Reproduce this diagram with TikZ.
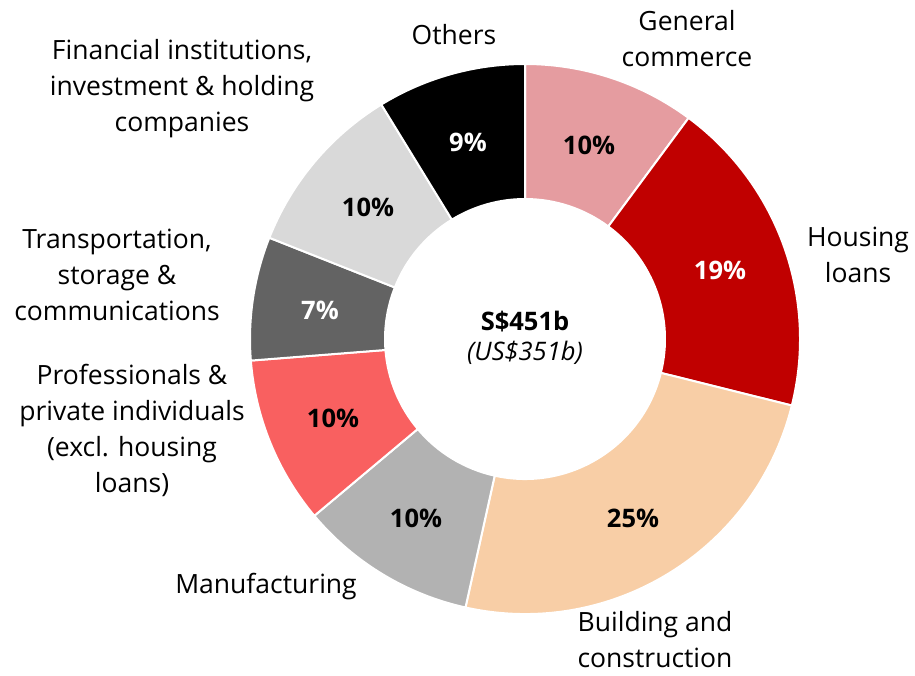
\documentclass[tikz,border=0pt]{standalone}
\usepackage{fontspec}
\setmainfont{Open Sans}
\begin{document}
\begin{tikzpicture}[x=1pt,y=1pt,
  lbl/.style={align=center,font=\fontsize{26.5}{36}\selectfont,inner sep=0pt},
  pct/.style={font=\fontsize{25.5}{30}\selectfont\bfseries,inner sep=0pt},
  seg/.style={draw=white,line width=2pt,line join=round}]
\useasboundingbox[fill=white] (0,0) rectangle (915,-675);
\newcommand\donutseg[3]{\fill[seg,fill=#3] (#1:275) arc[start angle=#1,end angle=#2,radius=275] -- (#2:140) arc[start angle=#2,end angle=#1,radius=140] -- cycle;}
\definecolor{cgc}{HTML}{E59CA0}
\definecolor{chl}{HTML}{C00000}
\definecolor{cbc}{HTML}{F8CEA6}
\definecolor{cmf}{HTML}{B2B2B2}
\definecolor{cpr}{HTML}{F96060}
\definecolor{ctr}{HTML}{636363}
\definecolor{cfi}{HTML}{D9D9D9}
\definecolor{cot}{HTML}{000000}
\begin{scope}[shift={(525,-339)}]
\donutseg{90}{53.5}{cgc}
\donutseg{53.5}{-14}{chl}
\donutseg{-14}{-102.5}{cbc}
\donutseg{-102.5}{-140}{cmf}
\donutseg{-140}{-175.5}{cpr}
\donutseg{-175.5}{-201.6}{ctr}
\donutseg{-201.6}{-238.5}{cfi}
\donutseg{-238.5}{-270}{cot}
\end{scope}
% percentages
\node[pct] (pgc) at (589,-145) {10\%};
\node[pct,text=white] (phl) at (720,-270) {19\%};
\node[pct] (pbc) at (633,-518) {25\%};
\node[pct] (pmf) at (416,-518) {10\%};
\node[pct] (ppr) at (333,-418) {10\%};
\node[pct,text=white] (ptr) at (320,-310) {7\%};
\node[pct] (pfi) at (368,-207) {10\%};
\node[pct,text=white] (pot) at (468,-142) {9\%};
% center
\node[font=\fontsize{25.5}{30}\selectfont\bfseries,inner sep=0pt] (tot) at (525,-322) {S\$451b};
\node[font=\fontsize{25.5}{30}\selectfont\itshape,inner sep=0pt] (usd) at (525,-353) {(US\$351b)};
% labels
\node[lbl] (lgc) at (687,-39) {General\\commerce};
\node[lbl] (lot) at (454,-35) {Others};
\node[lbl] (lfi) at (182,-89) {Financial institutions,\\investment \& holding\\companies};
\node[lbl] (ltr) at (117,-275) {Transportation,\\storage \&\\communications};
\node[lbl] (lpr) at (132,-430) {Professionals \&\\private individuals\\(excl. housing\\loans)};
\node[lbl] (lmf) at (266,-587) {Manufacturing};
\node[lbl] (lbc) at (655,-640) {Building and\\construction};
\node[lbl] (lhl) at (858,-255) {Housing\\loans};
\end{tikzpicture}
\end{document}
